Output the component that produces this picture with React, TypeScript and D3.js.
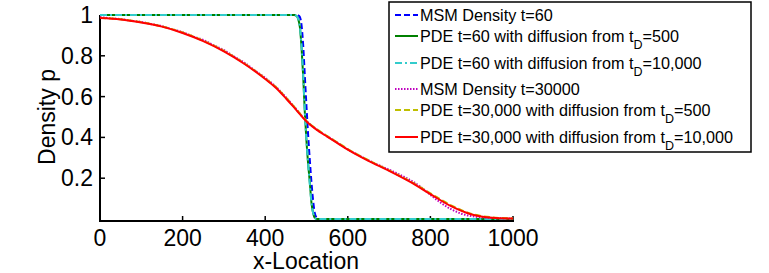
import * as d3 from "d3";
import { useEffect, useRef } from "react";

// front at early time (t=60)
const xFront = [0, 460, 470, 476, 480, 484, 488, 492, 496, 500, 504, 508, 512, 516, 520, 524, 530, 1000];
const msm60 = [1, 1, 1, 1, 0.998, 0.99, 0.95, 0.85, 0.7, 0.55, 0.41, 0.29, 0.18, 0.09, 0.03, 0.008, 0, 0];
const pde60_500 = [1, 1, 1, 0.995, 0.98, 0.94, 0.84, 0.7, 0.52, 0.38, 0.27, 0.18, 0.08, 0.03, 0.005, 0, 0, 0];
const pde60_10k = [1, 1, 1, 0.995, 0.98, 0.94, 0.85, 0.7, 0.53, 0.38, 0.27, 0.17, 0.08, 0.03, 0.006, 0, 0, 0];

// late time (t=30000)
const xLate = [0, 50, 100, 150, 200, 250, 300, 350, 400, 425, 450, 475, 500, 525, 550, 575, 600, 650, 700, 750, 800, 850, 900, 950, 1000];
const pde30k_500 = [0.986, 0.979, 0.965, 0.944, 0.914, 0.874, 0.824, 0.762, 0.689, 0.648, 0.596, 0.539, 0.481, 0.44, 0.407, 0.375, 0.343, 0.288, 0.238, 0.186, 0.126, 0.067, 0.025, 0.008, 0.003];
const pde30k_10k = [0.985, 0.978, 0.963, 0.943, 0.912, 0.872, 0.822, 0.76, 0.686, 0.645, 0.592, 0.535, 0.478, 0.437, 0.404, 0.372, 0.34, 0.285, 0.236, 0.183, 0.122, 0.063, 0.022, 0.006, 0.002];

const xMsm = [0, 25, 50, 75, 100, 125, 150, 175, 200, 225, 250, 275, 300, 325, 350, 375, 400, 425, 450, 475, 500, 525, 550, 575, 600, 625, 650, 675, 700, 725, 750, 775, 800, 825, 850, 875, 900, 925, 950, 975, 1000];
const msm30k = [0.99, 0.984, 0.98, 0.972, 0.966, 0.955, 0.946, 0.93, 0.916, 0.895, 0.878, 0.852, 0.828, 0.796, 0.766, 0.728, 0.692, 0.65, 0.597, 0.538, 0.48, 0.438, 0.406, 0.374, 0.341, 0.314, 0.288, 0.264, 0.242, 0.218, 0.192, 0.16, 0.118, 0.08, 0.048, 0.026, 0.014, 0.008, 0.005, 0.003, 0.002];

const xTicks = [0, 200, 400, 600, 800, 1000];
const yTicks = [0.2, 0.4, 0.6, 0.8, 1];

const legendMain = [
  "MSM Density t=60",
  "PDE t=60 with diffusion from t",
  "PDE t=60 with diffusion from t",
  "MSM Density t=30000",
  "PDE t=30,000 with diffusion from t",
  "PDE t=30,000 with diffusion from t",
];
const legendTail = ["", "=500", "=10,000", "", "=500", "=10,000"];

const series = [
  { xs: xFront, ys: msm60, color: "#0000ff", dash: "6,3" },
  { xs: xFront, ys: pde60_500, color: "#008000", dash: "" },
  { xs: xFront, ys: pde60_10k, color: "#33cccc", dash: "7,3,2,3" },
  { xs: xMsm, ys: msm30k, color: "#bf00bf", dash: "1.5,1.5" },
  { xs: xLate, ys: pde30k_500, color: "#bfbf00", dash: "6,3" },
  { xs: xLate, ys: pde30k_10k, color: "#ff0000", dash: "" },
];

export default function App() {
  const svgRef = useRef<SVGSVGElement | null>(null);

  useEffect(() => {
    if (!svgRef.current) return;
    const svg = d3.select(svgRef.current);
    svg.selectAll("*").remove();

    const font = "'Liberation Sans', Arial, sans-serif";
    const x = d3.scaleLinear().domain([0, 1000]).range([100, 513]);
    const y = d3.scaleLinear().domain([0, 1]).range([219, 15]);

    const line = d3
      .line<[number, number]>()
      .x((d) => x(d[0]))
      .y((d) => y(d[1]))
      .curve(d3.curveMonotoneX);

    // axes
    svg.append("line").attr("x1", 100).attr("x2", 100).attr("y1", 15).attr("y2", 222)
      .attr("stroke", "#000").attr("stroke-width", 2);
    svg.append("line").attr("x1", 99).attr("x2", 514).attr("y1", 221).attr("y2", 221)
      .attr("stroke", "#000").attr("stroke-width", 2);

    yTicks.forEach((t) => {
      svg.append("line").attr("x1", 100).attr("x2", 105).attr("y1", y(t)).attr("y2", y(t))
        .attr("stroke", "#000").attr("stroke-width", 1.5);
      svg.append("text").attr("x", 93).attr("y", y(t) + 8).attr("text-anchor", "end")
        .attr("font-family", font).attr("font-size", 23).text(String(t));
    });
    xTicks.forEach((t) => {
      svg.append("line").attr("x1", x(t)).attr("x2", x(t)).attr("y1", 221).attr("y2", 216)
        .attr("stroke", "#000").attr("stroke-width", 1.5);
      svg.append("text").attr("x", x(t)).attr("y", 246).attr("text-anchor", "middle")
        .attr("font-family", font).attr("font-size", 23).text(String(t));
    });

    svg.append("text").attr("x", 306).attr("y", 269).attr("text-anchor", "middle")
      .attr("font-family", font).attr("font-size", 23).text("x-Location");
    svg.append("text").attr("transform", "translate(55,117) rotate(-90)").attr("text-anchor", "middle")
      .attr("font-family", font).attr("font-size", 23).text("Density p");

    series.forEach((s) => {
      svg
        .append("path")
        .attr("d", line(s.xs.map((v, i) => [v, s.ys[i]] as [number, number])))
        .attr("fill", "none")
        .attr("stroke", s.color)
        .attr("stroke-width", 2)
        .attr("stroke-dasharray", s.dash || null);
    });

    // legend
    const lg = svg.append("g");
    lg.append("rect").attr("x", 389).attr("y", 2).attr("width", 362).attr("height", 150)
      .attr("fill", "#fff").attr("stroke", "#000").attr("stroke-width", 1.5);
    let top = 5;
    legendMain.forEach((label, i) => {
      const sub = legendTail[i] !== "";
      const ly = top + (sub ? 11 : 10);
      lg.append("line").attr("x1", 395).attr("x2", 418).attr("y1", ly).attr("y2", ly)
        .attr("stroke", series[i].color).attr("stroke-width", 2)
        .attr("stroke-dasharray", series[i].dash || null);
      const txt = lg.append("text").attr("x", 420).attr("y", ly + 6)
        .attr("font-family", font).attr("font-size", 16.2);
      txt.append("tspan").text(label);
      if (sub) {
        txt.append("tspan").attr("dy", 7).attr("font-size", 12.5).text("D");
        txt.append("tspan").attr("dy", -7).text(legendTail[i]);
      }
      top += sub ? 27 : 20;
    });
  }, []);

  return (
    <svg
      ref={svgRef}
      width={769}
      height={273}
      style={{ position: "absolute", left: 0, top: 0, background: "#fff" }}
    />
  );
}
